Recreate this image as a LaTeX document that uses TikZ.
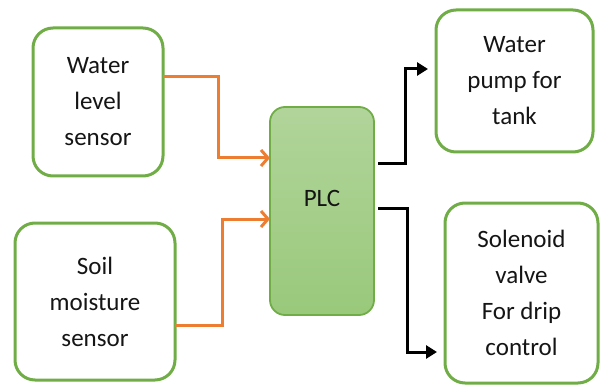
\documentclass[tikz,border=0pt]{standalone}
\usepackage{fontspec}
\setmainfont{Carlito}
\usetikzlibrary{arrows.meta}
\definecolor{boxgreen}{HTML}{70AD47}
\definecolor{sigorange}{HTML}{ED7D31}
\definecolor{plctop}{HTML}{B1D49A}
\definecolor{plcbot}{HTML}{99C97B}
\definecolor{ink}{HTML}{151515}
\tikzset{
  unit/.style={draw=boxgreen, line width=3pt, rounded corners=20pt, fill=white,
    align=center, text=ink, inner sep=0pt, outer sep=0pt,
    font=\fontsize{25}{36}\selectfont},
  ctrl/.style={draw=boxgreen, line width=1.8pt, rounded corners=15pt,
    top color=plctop, bottom color=plcbot, inner sep=0pt, outer sep=0pt},
  insig/.style={draw=sigorange, line width=3pt,
    -{Straight Barb[length=7pt,width=16pt]}},
  outsig/.style={draw=black, line width=3pt,
    -{Triangle[length=11pt,width=13pt]}, shorten <=4pt, shorten >=8pt}
}
\begin{document}
\begin{tikzpicture}[x=1pt, y=-1pt]
  \useasboundingbox (0,0) rectangle (600,385);

  % sensors
  \node[unit, minimum width=130pt, minimum height=148pt] (wls) at (98,102)
    {Water\\level\\sensor};
  \node[unit, minimum width=160pt, minimum height=157pt] (sms) at (95,301.5)
    {Soil\\moisture\\sensor};

  % controller
  \node[ctrl, minimum width=104pt, minimum height=208pt] (plc) at (322,211) {};
  \node[text=ink, font=\fontsize{25}{36}\selectfont] (plctext) at (322,198) {PLC};

  % actuators
  \node[unit, minimum width=157pt, minimum height=142pt] (pump) at (514.5,81)
    {Water\\pump for\\tank};
  \node[unit, minimum width=153pt, minimum height=180pt] (valve) at (521.5,293)
    {Solenoid\\valve\\For drip\\control};

  % bend points
  \coordinate (j1) at (218,120);
  \coordinate (j2) at (222,270);
  \coordinate (j3) at (405,120);
  \coordinate (j4) at (407,280);

  % sensor signals into the PLC
  \draw[insig] ([yshift=25pt]wls.east) -| (j1) |- ([yshift=53pt]plc.west);
  \draw[insig] ([yshift=-23.5pt]sms.east) -| (j2) |- ([yshift=-8pt]plc.west);

  % PLC outputs
  \draw[outsig] ([yshift=47pt]plc.east) -| (j3) |- ([yshift=12pt]pump.west);
  \draw[outsig] ([yshift=3pt]plc.east) -| (j4) |- ([yshift=-59pt]valve.west);
\end{tikzpicture}
\end{document}
